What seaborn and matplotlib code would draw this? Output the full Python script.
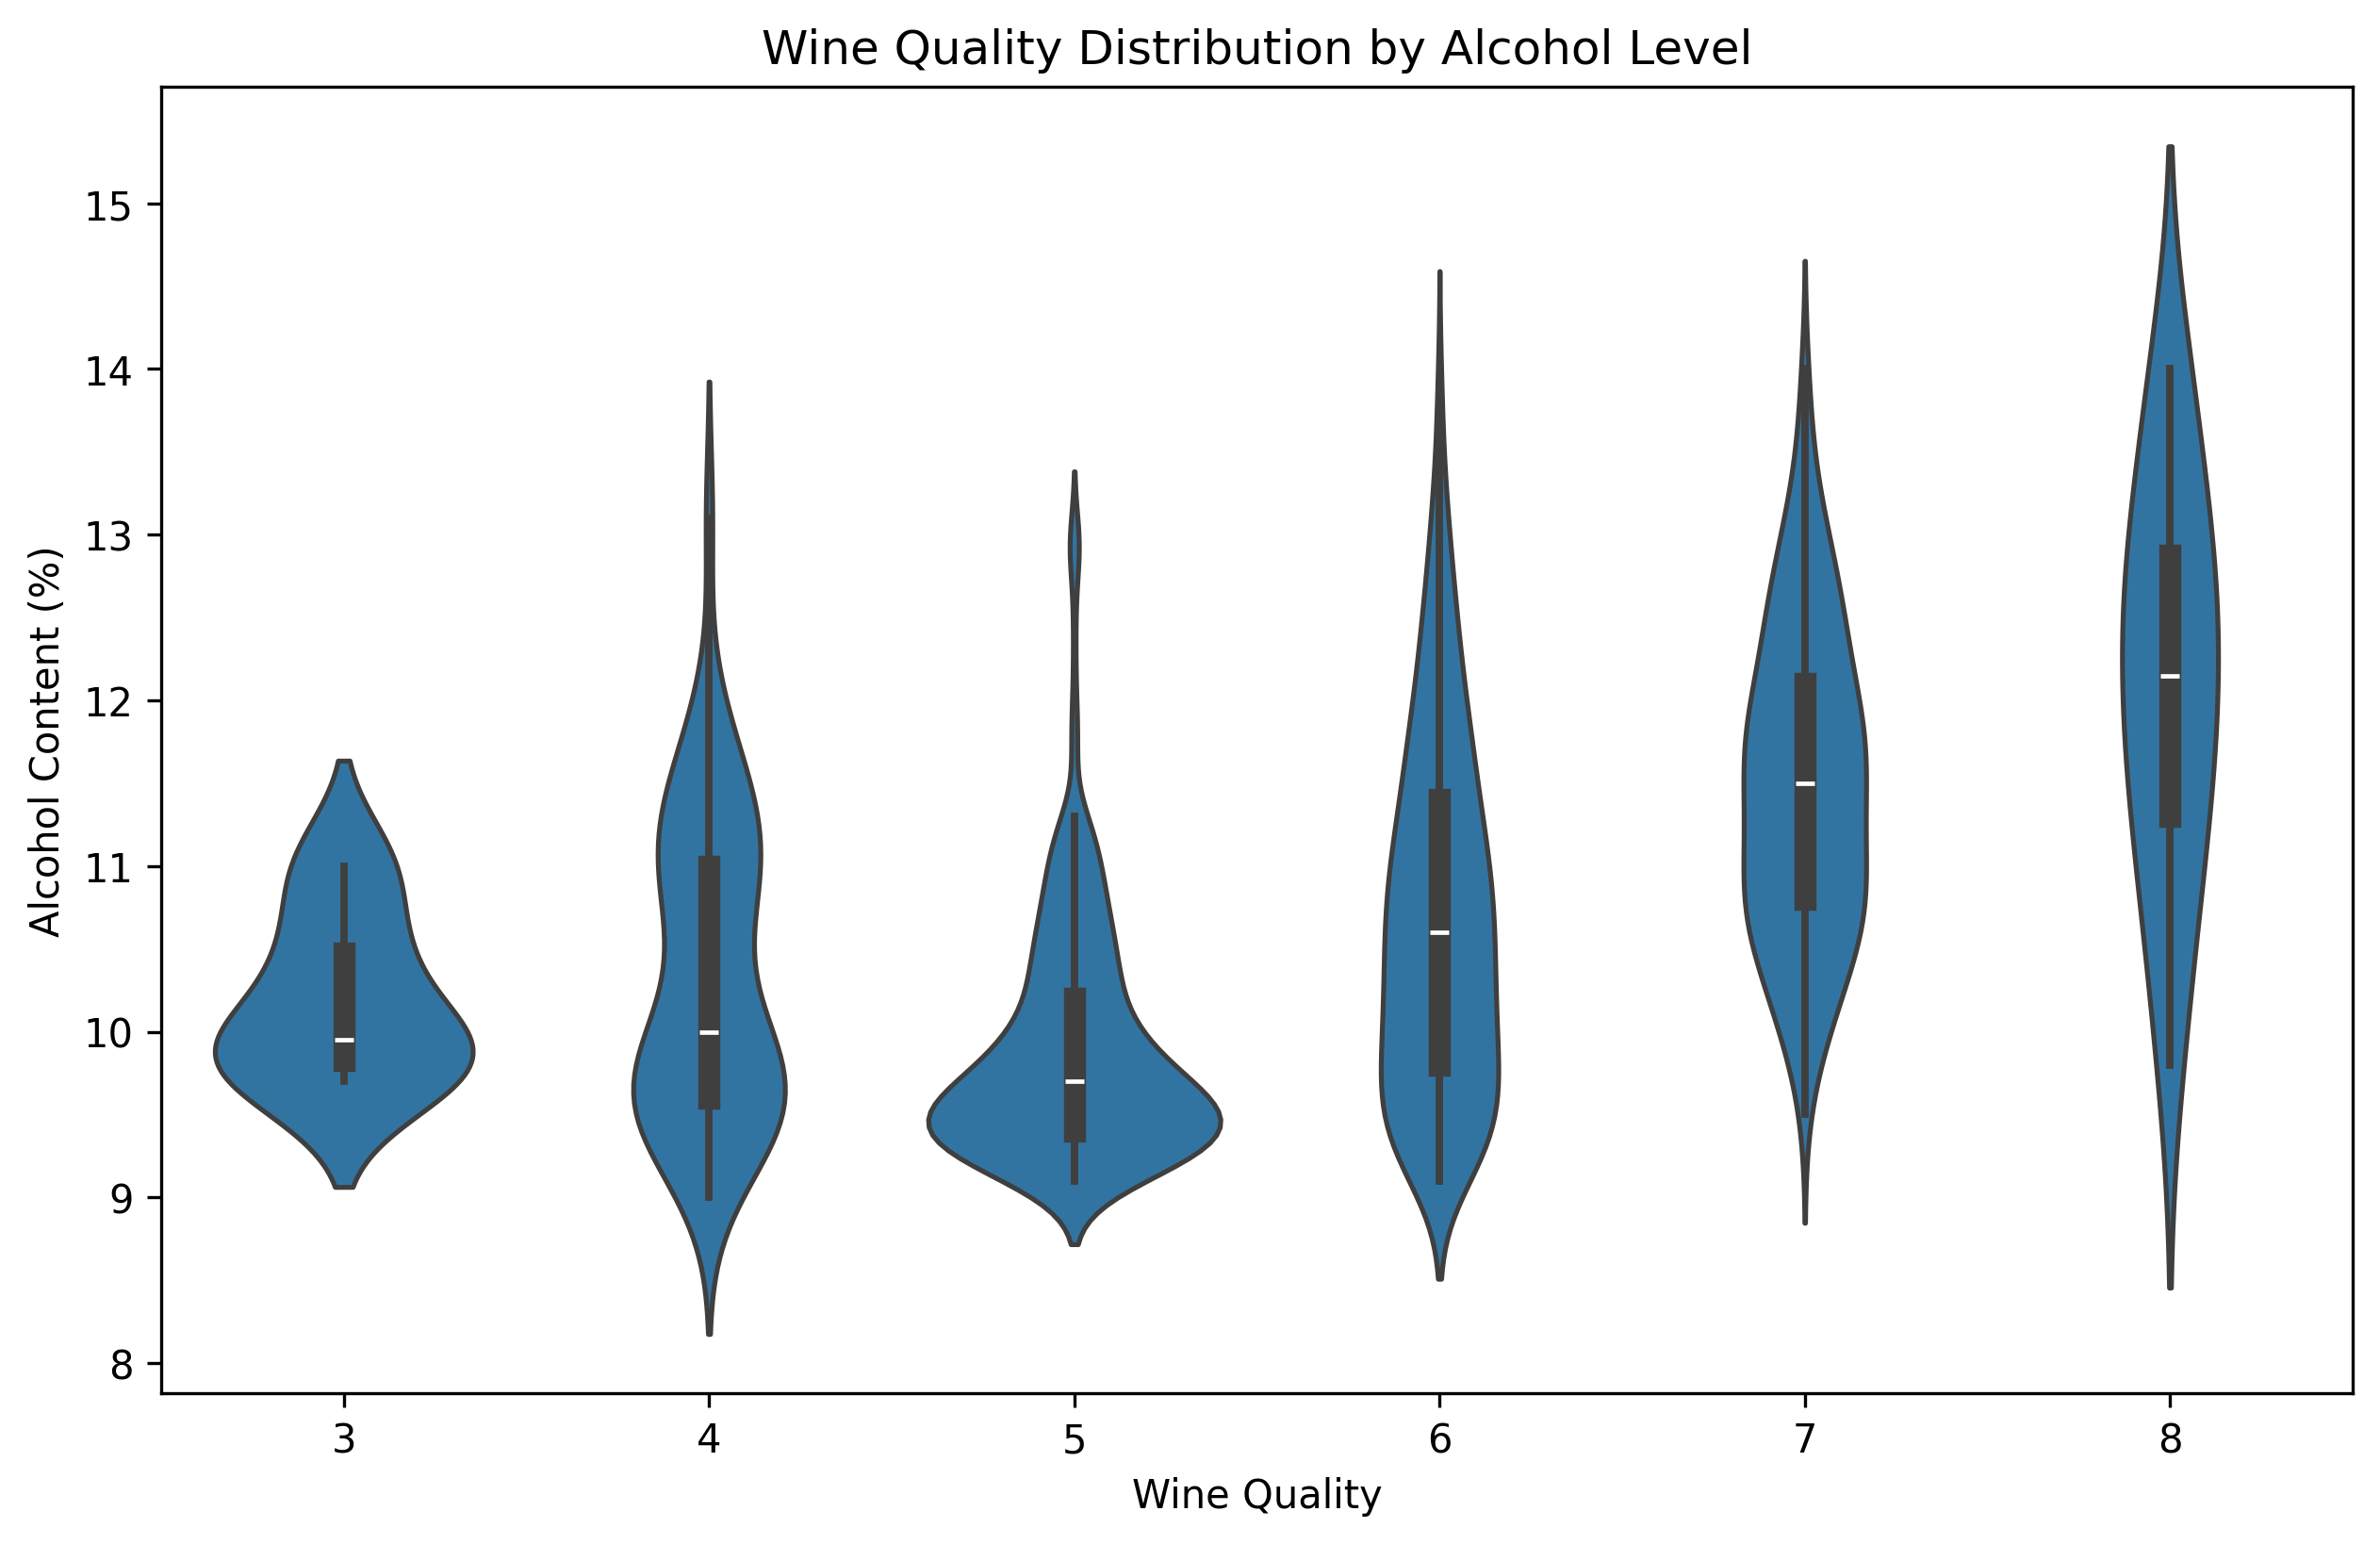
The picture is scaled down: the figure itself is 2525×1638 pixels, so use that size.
import numpy as np
import pandas as pd
import matplotlib
matplotlib.use("Agg")
import matplotlib.pyplot as plt
import seaborn as sns

# Frequency tables (alcohol value -> number of wines)
q3_alcohol = [9.7, 9.8, 9.9, 10.0, 10.4, 10.5, 11.0]
q3_counts = [2, 1, 2, 1, 1, 1, 2]

q4_alcohol = [9.0, 9.2, 9.3, 9.4, 9.5, 9.6, 9.7, 9.8, 9.9, 10.0, 10.1, 10.2,
              10.4, 10.5, 10.6, 10.7, 10.8, 10.9, 11.0, 11.1, 11.2, 11.3, 11.4,
              11.5, 11.6, 11.7, 11.8, 12.0, 13.1]
q4_counts = [1, 1, 3, 2, 6, 3, 3, 3, 3, 2, 1, 1,
             1, 1, 1, 1, 1, 2, 4, 1, 2, 2, 2,
             1, 1, 1, 1, 1, 1]

q5_alcohol = [9.1, 9.2, 9.3, 9.4, 9.5, 9.6, 9.7, 9.8, 9.9, 10.0, 10.1, 10.2,
              10.3, 10.4, 10.5, 10.6, 10.7, 10.8, 10.9, 11.0, 11.1, 11.2, 11.3,
              11.7, 11.8, 11.9, 12.0, 12.2, 12.4, 12.6, 12.8, 12.9, 13.0]
q5_counts = [30, 48, 62, 72, 70, 56, 46, 38, 31, 25, 21, 18,
             19, 18, 17, 16, 14, 13, 12, 11, 10, 9, 7,
             2, 2, 1, 1, 1, 1, 1, 1, 4, 4]

q6_alcohol = [9.1, 9.2, 9.3, 9.4, 9.5, 9.6, 9.7,
              9.8, 9.9, 10.0, 10.1, 10.2, 10.3, 10.4, 10.5,
              10.6, 10.7, 10.8, 10.9, 11.0, 11.1, 11.2, 11.3, 11.4,
              11.5, 11.6, 11.7, 11.8, 11.9, 12.0, 12.1, 12.2, 12.3, 12.4, 12.5,
              12.6, 12.7, 12.8, 12.9, 13.0, 13.1, 13.2, 13.3, 13.4, 13.5,
              13.6, 13.7, 13.8, 13.9, 14.0]
q6_counts = [16, 19, 21, 23, 23, 24, 24,
             22, 21, 21, 21, 21, 21, 21, 20,
             21, 21, 21, 20, 19, 18, 17, 16, 15,
             14, 13, 13, 12, 11, 10, 9, 8, 8, 7, 7,
             6, 5, 5, 4, 4, 3, 3, 2, 2, 1,
             1, 1, 1, 1, 1]

q7_alcohol = [9.5, 9.6, 9.8, 9.9, 10.0, 10.1, 10.2, 10.3, 10.4, 10.5,
              10.6, 10.7, 10.8, 10.9, 11.0, 11.1, 11.2, 11.3, 11.4, 11.5,
              11.6, 11.7, 11.8, 11.9, 12.0, 12.1, 12.2, 12.3, 12.4, 12.5,
              12.6, 12.7, 12.8, 12.9, 13.0, 13.1, 13.2, 13.3, 13.5, 13.7,
              13.9, 14.0]
q7_counts = [1, 1, 2, 2, 3, 4, 4, 5, 5, 6,
             8, 8, 9, 7, 7, 7, 7, 6, 6, 8,
             8, 8, 8, 7, 6, 7, 4, 5, 5, 5,
             5, 4, 4, 3, 3, 2, 2, 2, 2, 1,
             1, 1]

q8_alcohol = [9.8, 10.3, 10.8, 11.0, 11.2, 11.6, 11.7, 11.8, 12.1, 12.2,
              12.5, 12.6, 12.8, 12.9, 13.2, 13.4, 14.0]
q8_counts = [1, 1, 1, 1, 1, 1, 1, 1, 1, 1,
             1, 1, 1, 1, 1, 1, 2]

quality_levels = [3, 4, 5, 6, 7, 8]
tables = [(q3_alcohol, q3_counts), (q4_alcohol, q4_counts), (q5_alcohol, q5_counts),
          (q6_alcohol, q6_counts), (q7_alcohol, q7_counts), (q8_alcohol, q8_counts)]

rows_q, rows_a = [], []
for q, (vals, cnts) in zip(quality_levels, tables):
    a = np.repeat(np.array(vals, dtype=float), cnts)
    rows_a.append(a)
    rows_q.append(np.full(len(a), q))
df = pd.DataFrame({"quality": np.concatenate(rows_q), "alcohol": np.concatenate(rows_a)})

plt.figure(figsize=(10, 6))
sns.violinplot(data=df, x="quality", y="alcohol")
plt.title("Wine Quality Distribution by Alcohol Level")
plt.xlabel("Wine Quality")
plt.ylabel("Alcohol Content (%)")
plt.savefig("out.png", dpi=300, bbox_inches="tight")
